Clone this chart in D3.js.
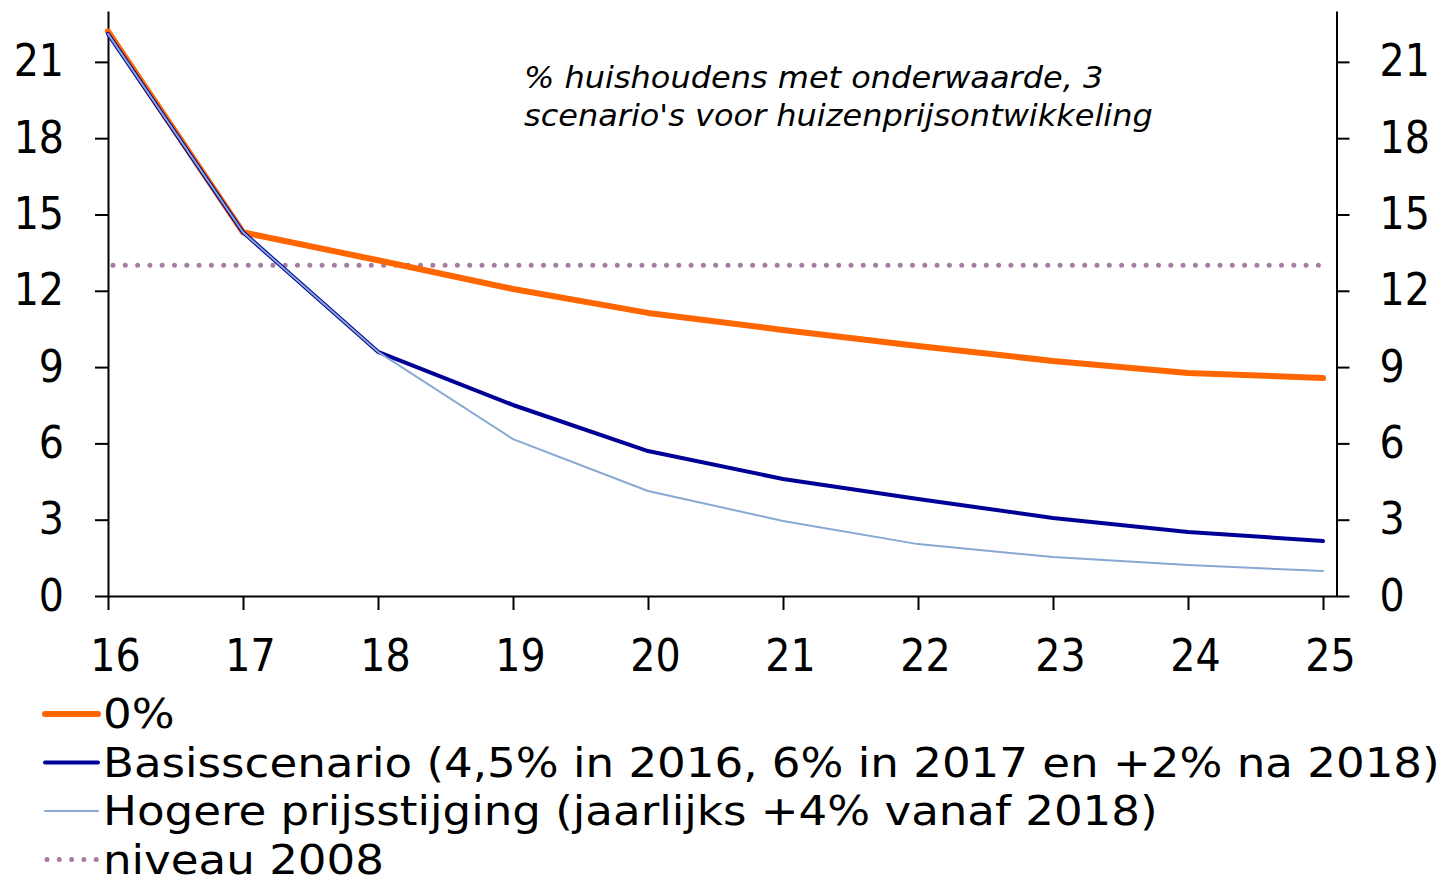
<!DOCTYPE html>
<html>
<head>
<meta charset="utf-8">
<script src="https://cdn.jsdelivr.net/npm/d3@7"></script>
<style>
  body { margin: 0; background: #fff; }
  text { font-family: "DejaVu Sans Condensed", "DejaVu Sans", sans-serif; font-stretch: condensed; fill: #000; }
  .wide { font-family: "DejaVu Sans", sans-serif; font-stretch: normal; }
</style>
</head>
<body>
<div id="chart"></div>
<script>
// data
var years = [16, 17, 18, 19, 20, 21, 22, 23, 24, 25];
var nul = [22.2, 14.3, 13.2, 12.07, 11.13, 10.46, 9.83, 9.24, 8.77, 8.57];
var basis = [22.1, 14.3, 9.6, 7.51, 5.70, 4.60, 3.81, 3.07, 2.52, 2.16];
var hoger = [22.1, 14.3, 9.6, 6.17, 4.13, 2.95, 2.04, 1.53, 1.22, 0.98];
var niveau2008 = [13, 13, 13, 13, 13, 13, 13, 13, 13, 13];
var yTicks = [0, 3, 6, 9, 12, 15, 18, 21];
var titleLines = ["% huishoudens met onderwaarde, 3", "scenario's voor huizenprijsontwikkeling"];

var series = [
  { name: '0%', values: nul, color: '#ff6600', width: 6, dash: null },
  { name: 'Basisscenario (4,5% in 2016, 6% in 2017 en +2% na 2018)', values: basis, color: '#000096', width: 4, dash: null },
  { name: 'Hogere prijsstijging (jaarlijks +4% vanaf 2018)', values: hoger, color: '#86a8d2', width: 2, dash: null },
  { name: 'niveau 2008', values: niveau2008, color: '#a87ba1', width: 5, dash: '0,12.3' }
];

var width = 1445,
    height = 879;

var svg = d3.select('#chart').append('svg')
  .attr('width', width)
  .attr('height', height);

var x = d3.scaleLinear().domain([16, 25.1]).range([108, 1336.5]);
var y = d3.scaleLinear().domain([0, 23]).range([596, 11]);

// axes
var gLeft = svg.append('g')
  .attr('transform', 'translate(' + x(16) + ',0)')
  .call(d3.axisLeft(y).tickValues(yTicks).tickSize(13).tickSizeOuter(0).tickPadding(31));

var gRight = svg.append('g')
  .attr('transform', 'translate(' + x(25.1) + ',0)')
  .call(d3.axisRight(y).tickValues(yTicks).tickSize(13).tickSizeOuter(0).tickPadding(30));

var gBottom = svg.append('g')
  .attr('transform', 'translate(0,' + y(0) + ')')
  .call(d3.axisBottom(x).tickValues(years).tickSize(14).tickSizeOuter(0).tickPadding(30));

[gLeft, gRight, gBottom].forEach(function(g) {
  g.select('.domain').attr('stroke', '#000').attr('stroke-width', 2);
  g.selectAll('.tick line').attr('stroke', '#000').attr('stroke-width', 2);
  g.selectAll('.tick text')
    .style('font-size', '44px')
    .attr('fill', '#000');
});
gBottom.selectAll('.tick text').attr('dx', 7);

// lines
var line = d3.line()
  .x(function(d, i) { return x(years[i]); })
  .y(function(d) { return y(d); });

// dotted level line first, then orange, navy, light blue on top
var order = [3, 0, 1, 2];
order.forEach(function(k) {
  var s = series[k];
  svg.append('path')
    .datum(s.values)
    .attr('fill', 'none')
    .attr('stroke', s.color)
    .attr('stroke-width', s.width)
    .attr('stroke-linejoin', 'round')
    .attr('stroke-linecap', 'round')
    .attr('stroke-dasharray', s.dash)
    .attr('stroke-dashoffset', s.dash ? -5 : null)
    .attr('d', line);
});

// stretch a text horizontally so it spans the wanted width (from x0)
function fitWidth(sel, x0, target) {
  var w = sel.node().getComputedTextLength();
  var k = target / w;
  sel.attr('transform', 'translate(' + x0 + ',0) scale(' + k + ',1) translate(' + (-x0) + ',0)');
}

// title
var title = svg.append('g');
titleLines.forEach(function(t, i) {
  title.append('text')
    .attr('class', 'wide')
    .attr('x', 524)
    .attr('y', 88 + i * 38)
    .style('font-size', '31px')
    .style('font-style', 'italic')
    .text(t);
});
var titleK = 629 / title.selectAll('text').nodes()[1].getComputedTextLength();
title.selectAll('text')
  .attr('transform', 'translate(524,0) scale(' + titleK + ',1) translate(-524,0)');

// legend
var legend = svg.selectAll('.legend')
  .data(series)
  .enter().append('g')
  .attr('class', 'legend')
  .attr('transform', function(d, i) { return 'translate(0,' + (714 + i * 48.5) + ')'; });

legend.append('line')
  .attr('x1', function(d) { return d.dash ? 47 : 45; })
  .attr('x2', 98)
  .attr('stroke', function(d) { return d.color; })
  .attr('stroke-width', function(d) { return d.width; })
  .attr('stroke-linecap', 'round')
  .attr('stroke-dasharray', function(d) { return d.dash ? '0,12.3' : null; });

var legendText = legend.append('text')
  .attr('class', 'wide')
  .attr('x', 103)
  .attr('y', 14)
  .style('font-size', '40px')
  .text(function(d) { return d.name; });

// scale all legend labels by the same factor, set by the longest one
var legK = 1337 / legendText.nodes()[1].getComputedTextLength();
legendText.attr('transform', 'translate(103,0) scale(' + legK + ',1) translate(-103,0)');
</script>
</body>
</html>
